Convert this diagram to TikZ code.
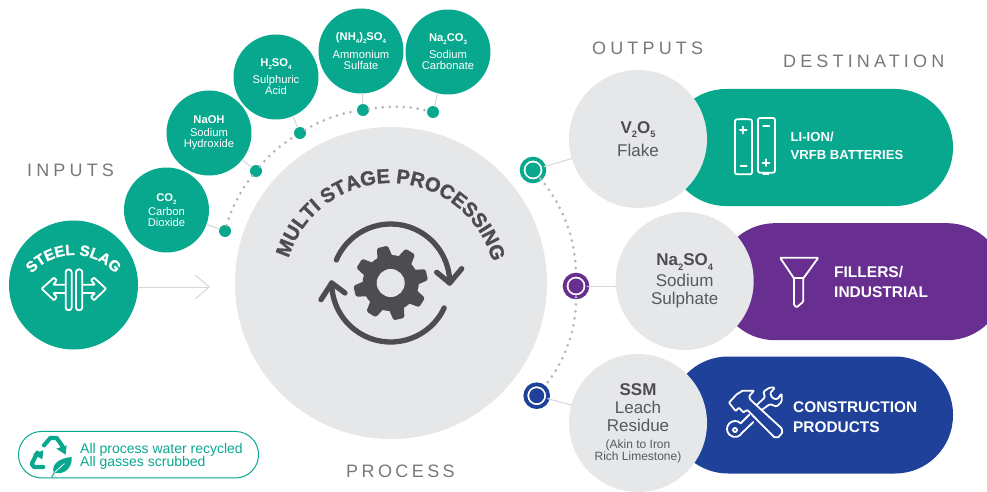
\documentclass[tikz,border=0pt]{standalone}
\usepackage{fontspec}
\setmainfont{Liberation Sans}
\newfontfamily\spaced[LetterSpace=23]{Liberation Sans}
\newfontfamily\spacedless[LetterSpace=19]{Liberation Sans}
\newfontface\arcbold[FakeBold=1.5]{Liberation Sans Bold}
\usetikzlibrary{arrows.meta,decorations.text}
\definecolor{tealc}{HTML}{08A88F}
\definecolor{purplec}{HTML}{682F90}
\definecolor{bluec}{HTML}{1F4199}
\definecolor{greyc}{HTML}{E6E7E8}
\definecolor{darkc}{HTML}{4D4D4F}
\definecolor{midc}{HTML}{58595B}
\definecolor{headc}{HTML}{77787B}
\definecolor{linec}{HTML}{D5D6D8}
\definecolor{dotc}{HTML}{B5B6B8}
\newcommand{\lowered}[1]{\raisebox{-.5ex}{\fontsize{.55em}{.55em}\selectfont #1}}
\tikzset{
	inbox/.style={circle,fill=tealc,minimum size=85,inner sep=0,outer sep=0,align=center,text=white,font=\fontsize{11.2}{11}\selectfont},
	outbox/.style={circle,fill=greyc,minimum size=138,inner sep=0,outer sep=0,align=center,text=midc,font=\fontsize{17}{18}\selectfont},
	dotnode/.style={circle,fill=tealc,minimum size=12,inner sep=0,outer sep=0},
	ringnode/.style={circle,fill=white,line width=3.8,minimum size=22.8,inner sep=0,outer sep=0},
	corenode/.style={circle,minimum size=15,inner sep=0,outer sep=0},
	pillbox/.style={rounded corners=58,minimum height=117,inner sep=0,outer sep=0},
	pilltext/.style={anchor=west,align=left,inner sep=0,text=white},
	headtext/.style={anchor=west,inner sep=0,text=headc,font=\spaced\fontsize{18}{18}\selectfont},
	thinlink/.style={linec,line width=1},
	dotarc/.style={dotc,line width=3,dash pattern=on 0pt off 7pt,looseness=.88},
	icon/.style={white,line width=1.8}
}
\begin{document}
\begin{tikzpicture}[x=1pt,y=1pt,line join=round,line cap=round]
	\useasboundingbox (0,0) rectangle (987,491);
	\clip (0,0) rectangle (987,491);
	% destinations
	\node[pillbox,fill=tealc,minimum width=285] (batt) at (810.5,343.5) {};
	\node[pillbox,fill=purplec,minimum width=288] (fill) at (861,209.3) {};
	\node[pillbox,fill=bluec,minimum width=283] (build) at (811.5,76) {};
	\node[pilltext,font=\bfseries\fontsize{13.1}{18}\selectfont] (battlabel) at (790.5,345) {LI-ION/\\VRFB BATTERIES};
	\node[pilltext,font=\bfseries\fontsize{15.5}{20}\selectfont] (filllabel) at (834,209) {FILLERS/\\INDUSTRIAL};
	\node[pilltext,font=\bfseries\fontsize{15.4}{20}\selectfont] (buildlabel) at (793,74) {CONSTRUCTION\\PRODUCTS};
	% centre
	\node[circle,fill=greyc,minimum size=312,inner sep=0,outer sep=0] (main) at (391,208) {};
	\path[decorate,decoration={text along path,text align=center,text={|\arcbold\fontsize{20}{21}\selectfont\color{darkc}|MULTI STAGE PROCESSING}}]
		(390,202) ++(165:106) arc[start angle=165,end angle=13,radius=106];
	\begin{scope}[shift={(390.7,208)}]
		\foreach \a in {13,58,103,148,193,238,283,328} {
			\fill[darkc,rotate=\a,rounded corners=1.5] (24,-8) -- (37,-5.5) -- (37,5.5) -- (24,8) -- cycle;
		}
		\fill[darkc] (0,0) circle (28);
		\fill[greyc] (0,0) circle (14);
		\draw[darkc,line width=5.3] (157:59) arc[start angle=157,end angle=0,radius=59];
		\draw[darkc,line width=5.3] (-25:59) arc[start angle=-25,end angle=-180,radius=59];
		\draw[darkc,line width=5.3] (46,10.7) -- (59,0) -- (71,14.3);
		\draw[darkc,line width=5.3] (-69.7,-16.7) -- (-59,0) -- (-45.7,-10);
	\end{scope}
	% inputs
	\node[inbox] (co) at (166.5,281) {\textbf{CO\lowered{2}}\\[2pt]Carbon\\Dioxide};
	\node[inbox] (naoh) at (209,358) {\textbf{NaOH}\\[2pt]Sodium\\Hydroxide};
	\node[inbox] (acid) at (276,414) {\textbf{H\lowered{2}SO\lowered{4}}\\[5pt]Sulphuric\\Acid};
	\node[inbox] (ammo) at (361,440) {\textbf{(NH\lowered{4})\lowered{2}SO\lowered{4}}\\[5pt]Ammonium\\Sulfate};
	\node[inbox] (carb) at (448,439) {\textbf{Na\lowered{2}CO\lowered{3}}\\[5pt]Sodium\\Carbonate};
	\node[dotnode] (da) at (225,260) {};
	\node[dotnode] (db) at (256,320) {};
	\node[dotnode] (dc) at (300,358) {};
	\node[dotnode] (dd) at (363,381) {};
	\node[dotnode] (de) at (433,379) {};
	\foreach \u/\v in {co/da,naoh/db,acid/dc,ammo/dd,carb/de} {
		\draw[thinlink] (\u) -- (\v);
	}
	\foreach \u/\v/\b in {da/db/11,db/dc/9.5,dc/dd/11,dd/de/11.5} {
		\draw[dotarc] (\u) to[bend left=\b] (\v);
	}
	% steel slag
	\node[circle,fill=tealc,minimum size=129,inner sep=0,outer sep=0] (steel) at (73.5,206) {};
	\path[decorate,decoration={text along path,text align=center,text={|\arcbold\fontsize{15}{15}\selectfont\color{white}|STEEL SLAG}}]
		(73.5,180) ++(137:56) arc[start angle=137,end angle=43,radius=56];
	\begin{scope}[shift={(30,229)},scale=1/3,yscale=-1]
		\draw[icon,rounded corners=3] (107,22) rectangle (125,145);
		\draw[icon,rounded corners=3] (138,22) rectangle (157,145);
		\draw[icon,rounded corners=.7] (107,68) -- (70,68) -- (80,55) -- (72,47) -- (35,80) -- (72,115) -- (80,105) -- (70,93) -- (107,93);
		\draw[icon,rounded corners=.7] (157,68) -- (195,68) -- (183,55) -- (192,47) -- (228,80) -- (192,115) -- (183,105) -- (195,93) -- (157,93);
	\end{scope}
	\coordinate (inend) at (210,204);
	\draw[linec,line width=1,-{Straight Barb[length=14,width=24]}] (steel.east |- inend) -- (inend);
	% outputs
	\node[outbox] (vana) at (638,352) {\textbf{\textcolor{darkc}{V\lowered{2}O\lowered{5}}}\\[5pt]Flake};
	\node[outbox] (sulf) at (684.7,210) {\textbf{\textcolor{darkc}{Na\lowered{2}SO\lowered{4}}}\\[3pt]Sodium\\Sulphate};
	\node[outbox] (ssm) at (638,68) {\textbf{\textcolor{darkc}{SSM}}\\Leach\\Residue\\[-1pt]\fontsize{12}{12}\selectfont (Akin to Iron\\[-6pt]\fontsize{12}{12}\selectfont Rich Limestone)};
	\foreach \nm/\col/\x/\y in {ra/tealc/533/321,rb/purplec/576/205,rc/bluec/536.7/95.3} {
		\node[ringnode,draw=\col] (\nm) at (\x,\y) {};
		\node[corenode,fill=\col] (\nm core) at (\x,\y) {};
	}
	\draw[thinlink] (ra) -- (vana);
	\draw[thinlink] (rb) -- (sulf.west |- rb);
	\draw[thinlink] (rc) -- (ssm);
	\draw[dotarc] (ra) to[bend left=20] (rb);
	\draw[dotarc] (rb) to[bend left=20] (rc);
	% batteries
	\begin{scope}[shift={(510,461)},scale=1/3,yscale=-1]
		\draw[icon,rounded corners=2] (675,268) rectangle (726,433);
		\draw[icon] (693,266) -- (708,266);
		\draw[icon] (700,290) -- (700,310) (690,300) -- (710,300) (692,408) -- (710,408);
		\draw[icon,rounded corners=2] (744,264) rectangle (795,428);
		\draw[icon] (760,431) -- (776,431);
		\draw[icon] (760,288) -- (778,288) (768,388) -- (768,408) (758,398) -- (778,398);
	\end{scope}
	% funnel
	\begin{scope}[shift={(770,246)},scale=1/3,yscale=-1]
		\draw[icon,rounded corners=1] (30,38) -- (145,38) -- (100,100) -- (100,170) -- (80,187) -- (72,180) -- (72,100) -- cycle;
		\draw[icon] (74,100) -- (100,100);
	\end{scope}
	% tools
	\begin{scope}[shift={(720,111)},scale=1/3,yscale=-1]
		\draw[icon,rounded corners=.7] (27,68) -- (50,43) -- (68,32) -- (102,32) -- (88,48) -- (90,58) -- (105,72) -- (185,145) -- (187,158) -- (175,172) -- (163,172) -- (82,90) -- (70,97) -- (57,83) -- (47,93) -- cycle;
		\draw[icon] (45,150) circle (6);
		\draw[icon] (88,104) -- (62,130) arc[start angle=-45,end angle=-330,radius=24] -- (100,126);
		\draw[icon,rounded corners=1.3] (110,75) -- (135,52) -- (130,35) -- (150,22) -- (165,23) -- (150,40) -- (158,55) -- (172,58) -- (185,40) -- (185,65) -- (170,80) -- (150,72) -- (125,90);
	\end{scope}
	% water note
	\node[draw=tealc,line width=1,rounded corners=23,minimum width=240,minimum height=46.5,inner sep=0] (water) at (138.5,36.3) {};
	\node[anchor=west,align=left,inner sep=0,text=tealc,font=\fontsize{14}{13.5}\selectfont] (waterlabel) at (80,34.5) {All process water recycled\\All gasses scrubbed};
	\begin{scope}[shift={(25,59)},scale=1/3,yscale=-1]
		\draw[tealc,line width=4.2] (57,40) -- (76,18) -- (95,18) -- (112,42);
		\fill[tealc] (94,50) -- (125,40) -- (122,68) -- cycle;
		\draw[tealc,line width=4.2] (55,105) -- (27,105) -- (20,96) -- (37,62);
		\fill[tealc] (24,66) -- (55,55) -- (52,82) -- cycle;
		\fill[tealc] (86,122) .. controls (78,95) and (105,78) .. (140,75) .. controls (142,105) and (122,130) .. (86,122);
		\draw[white,line width=.8] (88,122) -- (118,95);
		\draw[tealc,line width=1] (88,122) -- (80,135);
	\end{scope}
	% headings
	\node[headtext] (inputs) at (27,321) {INPUTS};
	\node[headtext] (outputs) at (592,443) {OUTPUTS};
	\node[headtext] (destination) at (783,430) {DESTINATION};
	\node[headtext,font=\spacedless\fontsize{18}{18}\selectfont] (process) at (346,20) {PROCESS};
\end{tikzpicture}
\end{document}
